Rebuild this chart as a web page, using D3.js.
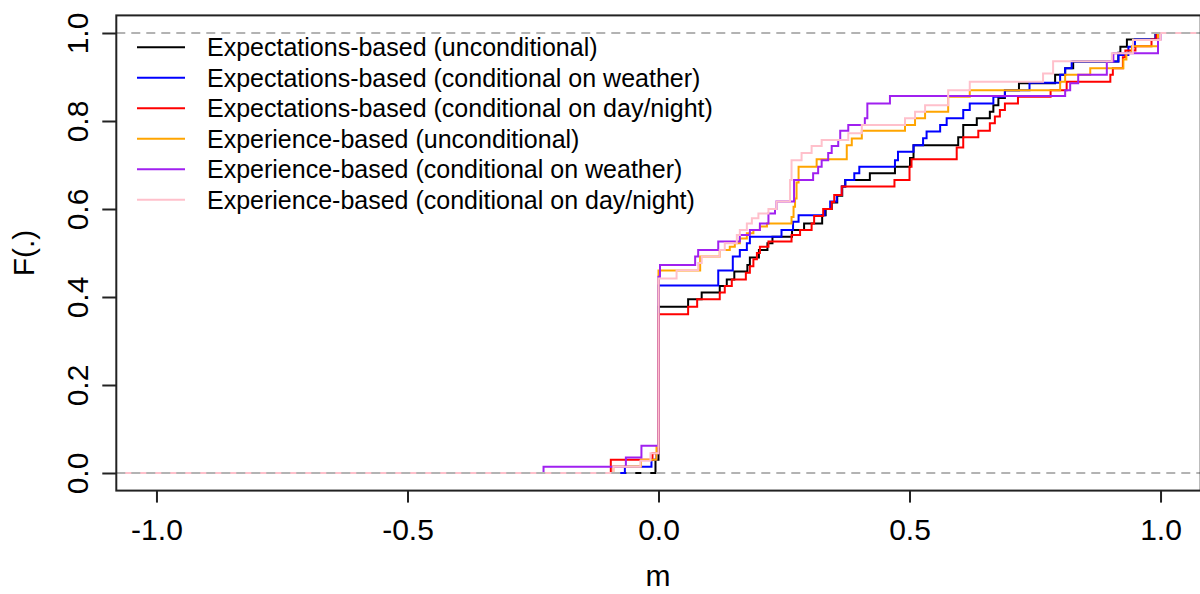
<!DOCTYPE html>
<html>
<head>
<meta charset="utf-8">
<script src="https://cdn.jsdelivr.net/npm/d3@7"></script>
<style>body{margin:0;background:#fff}</style>
</head>
<body>
<script>
// ECDF jump points (x) and values after each jump (F)
var expUncondX = [-0.006, 0, 0.059, 0.086, 0.122, 0.136, 0.151, 0.177, 0.182, 0.2, 0.217, 0.227, 0.266, 0.29, 0.326, 0.333, 0.345, 0.356, 0.366, 0.372, 0.421, 0.471, 0.501, 0.508, 0.597, 0.607, 0.634, 0.66, 0.667, 0.677, 0.69, 0.718, 0.79, 0.81, 0.826, 0.916, 0.92, 0.933, 0.99];
var expUncondF = [0.03, 0.378, 0.395, 0.41, 0.425, 0.44, 0.458, 0.473, 0.49, 0.507, 0.522, 0.537, 0.552, 0.567, 0.586, 0.6, 0.615, 0.63, 0.651, 0.666, 0.681, 0.696, 0.716, 0.745, 0.763, 0.791, 0.806, 0.821, 0.836, 0.852, 0.87, 0.886, 0.905, 0.92, 0.935, 0.955, 0.969, 0.985, 1];

var expWeatherX = [-0.067, -0.014, -0.004, 0, 0.119, 0.148, 0.162, 0.176, 0.182, 0.245, 0.268, 0.279, 0.331, 0.342, 0.355, 0.365, 0.372, 0.39, 0.4, 0.471, 0.477, 0.508, 0.527, 0.534, 0.561, 0.574, 0.607, 0.62, 0.667, 0.69, 0.739, 0.8, 0.81, 0.823, 0.916, 0.936, 0.949, 0.99];
var expWeatherF = [0.014, 0.03, 0.045, 0.426, 0.46, 0.492, 0.507, 0.522, 0.537, 0.552, 0.571, 0.586, 0.6, 0.617, 0.632, 0.651, 0.666, 0.681, 0.696, 0.711, 0.73, 0.745, 0.761, 0.776, 0.791, 0.806, 0.825, 0.84, 0.855, 0.87, 0.887, 0.905, 0.92, 0.935, 0.95, 0.969, 0.985, 1];

var expDayX = [-0.095, -0.012, 0, 0.059, 0.077, 0.122, 0.132, 0.146, 0.174, 0.182, 0.189, 0.196, 0.202, 0.219, 0.265, 0.282, 0.305, 0.31, 0.328, 0.345, 0.35, 0.365, 0.47, 0.5, 0.504, 0.594, 0.607, 0.637, 0.66, 0.67, 0.68, 0.69, 0.716, 0.781, 0.813, 0.9, 0.905, 0.925, 0.93, 0.95, 0.982, 0.992];
var expDayF = [0.03, 0.045, 0.361, 0.378, 0.395, 0.41, 0.425, 0.44, 0.455, 0.47, 0.486, 0.5, 0.514, 0.526, 0.541, 0.552, 0.567, 0.584, 0.6, 0.616, 0.632, 0.651, 0.666, 0.696, 0.713, 0.74, 0.763, 0.778, 0.795, 0.81, 0.825, 0.84, 0.855, 0.87, 0.889, 0.905, 0.92, 0.945, 0.96, 0.97, 0.985, 1];

var expeUncondX = [-0.09, -0.035, -0.004, 0, 0.083, 0.122, 0.142, 0.152, 0.162, 0.176, 0.189, 0.202, 0.216, 0.265, 0.269, 0.272, 0.275, 0.279, 0.315, 0.375, 0.385, 0.405, 0.491, 0.511, 0.531, 0.577, 0.62, 0.8, 0.81, 0.86, 0.926, 0.932, 0.943, 0.995];
var expeUncondF = [0.015, 0.03, 0.06, 0.46, 0.492, 0.507, 0.514, 0.522, 0.533, 0.545, 0.552, 0.56, 0.567, 0.582, 0.605, 0.624, 0.66, 0.696, 0.713, 0.745, 0.76, 0.778, 0.791, 0.806, 0.821, 0.855, 0.87, 0.889, 0.905, 0.92, 0.94, 0.955, 0.97, 1];

var expeWeatherX = [-0.229, -0.065, -0.034, 0, 0.003, 0.073, 0.079, 0.119, 0.162, 0.182, 0.202, 0.219, 0.232, 0.235, 0.27, 0.308, 0.318, 0.325, 0.338, 0.345, 0.358, 0.362, 0.378, 0.411, 0.416, 0.461, 0.81, 0.82, 0.836, 0.893, 0.906, 0.995, 1.0];
var expeWeatherF = [0.0144, 0.035, 0.062, 0.446, 0.473, 0.492, 0.507, 0.526, 0.541, 0.552, 0.567, 0.59, 0.6, 0.617, 0.666, 0.681, 0.696, 0.711, 0.727, 0.743, 0.757, 0.778, 0.791, 0.806, 0.84, 0.857, 0.87, 0.886, 0.905, 0.935, 0.954, 0.985, 1];

var expeDayX = [-0.09, -0.036, -0.016, 0, 0.036, 0.079, 0.086, 0.122, 0.132, 0.156, 0.162, 0.176, 0.186, 0.199, 0.219, 0.235, 0.262, 0.265, 0.285, 0.305, 0.325, 0.378, 0.405, 0.491, 0.511, 0.531, 0.577, 0.62, 0.766, 0.786, 0.903, 0.945, 1.0];
var expeDayF = [0.014, 0.028, 0.045, 0.442, 0.461, 0.477, 0.492, 0.507, 0.522, 0.541, 0.552, 0.567, 0.579, 0.59, 0.6, 0.617, 0.666, 0.711, 0.727, 0.743, 0.757, 0.772, 0.791, 0.806, 0.821, 0.836, 0.87, 0.889, 0.908, 0.936, 0.954, 0.984, 1];

var seriesNames = ["Expectations-based (unconditional)", "Expectations-based (conditional on weather)", "Expectations-based (conditional on day/night)", "Experience-based (unconditional)", "Experience-based (conditional on weather)", "Experience-based (conditional on day/night)"];
var seriesColors = ["#000000", "#0000ff", "#ff0000", "#ffa500", "#a020f0", "#ffc0cb"];
var seriesX = [expUncondX, expWeatherX, expDayX, expeUncondX, expeWeatherX, expeDayX];
var seriesF = [expUncondF, expWeatherF, expDayF, expeUncondF, expeWeatherF, expeDayF];

var xTicks = [-1, -0.5, 0, 0.5, 1];
var yTicks = [0, 0.2, 0.4, 0.6, 0.8, 1];

// layout
var W = 1200, H = 594;
var pLeft = 116.3, pRight = 1200.7, pTop = 15.4, pBottom = 490.6;
var font = "'Liberation Sans', Arial, sans-serif";

var svg = d3.select("body").append("svg")
	.attr("width", W)
	.attr("height", H)
	.style("font-family", font);

var x = d3.scaleLinear().domain([-1.08, 1.08]).range([pLeft, pRight]);
var y = d3.scaleLinear().domain([-0.04, 1.04]).range([pBottom, pTop]);

svg.append("clipPath").attr("id", "plotclip")
	.append("rect")
	.attr("x", pLeft).attr("y", pTop)
	.attr("width", pRight - pLeft).attr("height", pBottom - pTop);

// step curves
var step = d3.line()
	.x(function(d) { return x(d[0]); })
	.y(function(d) { return y(d[1]); })
	.curve(d3.curveStepAfter);

var plot = svg.append("g").attr("clip-path", "url(#plotclip)");

seriesX.forEach(function(xs, i) {
	var pts = [[-1.2, 0]];
	xs.forEach(function(v, j) { pts.push([v, seriesF[i][j]]); });
	pts.push([1.2, 1]);
	plot.append("path")
		.attr("d", step(pts))
		.attr("fill", "none")
		.attr("stroke", seriesColors[i])
		.attr("stroke-width", 2);
});

// dashed 0/1 lines
[0, 1].forEach(function(v) {
	plot.append("line")
		.attr("x1", pLeft).attr("x2", pRight)
		.attr("y1", y(v)).attr("y2", y(v))
		.attr("stroke", "#b3b3b3")
		.attr("stroke-width", 2)
		.attr("stroke-dasharray", "9,6");
});

// box
svg.append("rect")
	.attr("x", pLeft).attr("y", pTop)
	.attr("width", pRight - pLeft).attr("height", pBottom - pTop)
	.attr("fill", "none")
	.attr("stroke", "#222")
	.attr("stroke-width", 2);

// axes
var xAxis = svg.append("g")
	.attr("transform", "translate(0," + pBottom + ")")
	.call(d3.axisBottom(x).tickValues(xTicks).tickSize(12)
		.tickFormat(function(d) { return d.toFixed(1); }));
xAxis.select(".domain").remove();
xAxis.selectAll("line").attr("stroke", "#222").attr("stroke-width", 2);
xAxis.selectAll("text")
	.attr("y", 49).attr("dy", 0)
	.attr("fill", "#000")
	.style("font-size", "30px")
	.style("font-family", font);

var yAxis = svg.append("g")
	.attr("transform", "translate(" + pLeft + ",0)")
	.call(d3.axisLeft(y).tickValues(yTicks).tickSize(14)
		.tickFormat(function(d) { return d.toFixed(1); }));
yAxis.select(".domain").remove();
yAxis.selectAll("line").attr("stroke", "#222").attr("stroke-width", 2);
yAxis.selectAll("text")
	.attr("x", 0).attr("dy", 0)
	.attr("text-anchor", "middle")
	.attr("transform", "translate(-28,0) rotate(-90)")
	.attr("fill", "#000")
	.style("font-size", "30px")
	.style("font-family", font);

// axis titles
svg.append("text")
	.attr("x", 658).attr("y", 586)
	.attr("text-anchor", "middle")
	.style("font-size", "30px")
	.text("m");

svg.append("text")
	.attr("transform", "translate(34,253) rotate(-90)")
	.attr("text-anchor", "middle")
	.style("font-size", "30px")
	.text("F(.)");

// legend
var legend = svg.append("g");
seriesNames.forEach(function(name, i) {
	var ly = 47.3 + i * 30.5;
	legend.append("line")
		.attr("x1", 137).attr("x2", 185)
		.attr("y1", ly).attr("y2", ly)
		.attr("stroke", seriesColors[i])
		.attr("stroke-width", 2);
	legend.append("text")
		.attr("x", 207).attr("y", ly)
		.attr("dy", "0.35em")
		.style("font-size", "25px")
		.text(name);
});
</script>
</body>
</html>
